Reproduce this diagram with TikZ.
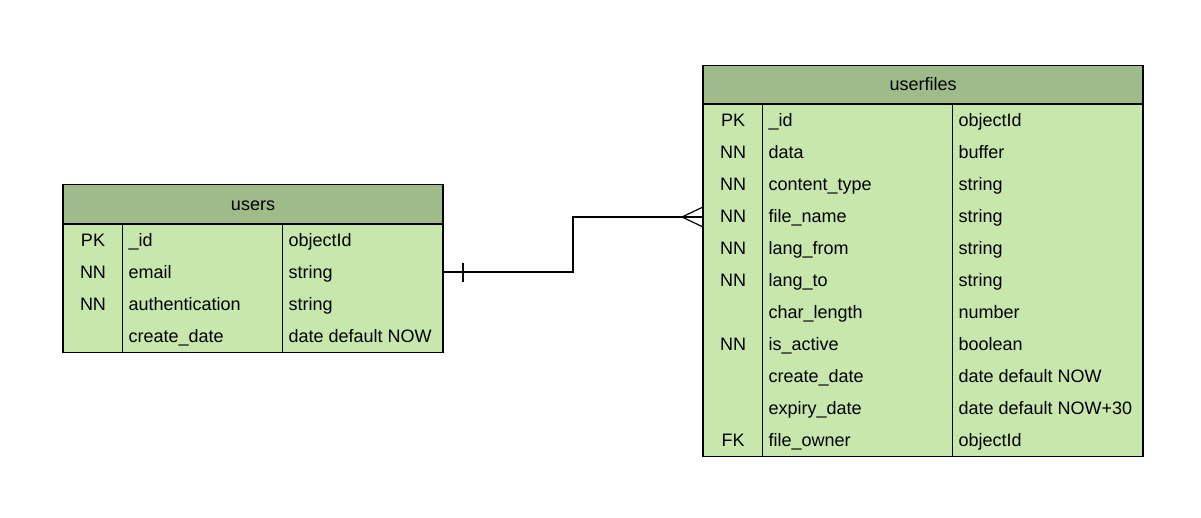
\documentclass[tikz,border=0pt]{standalone}
\usepackage{fontspec}
\setmainfont{Liberation Sans}

\definecolor{hdrgreen}{RGB}{159,187,138}
\definecolor{rowgreen}{RGB}{199,231,173}

\begin{document}
\begin{tikzpicture}[x=0.75pt, y=-0.75pt, line width=0.9pt,
    every node/.style={font=\fontsize{13.5}{16}\selectfont, text height=9.6pt, text depth=0pt}]
    \tikzset{hdr/.style={rectangle, draw, fill=hdrgreen, inner sep=0pt},
             tbl/.style={rectangle, draw, fill=rowgreen, inner sep=0pt, anchor=north},
             key/.style={inner sep=0pt},
             cell/.style={inner sep=0pt, anchor=west}}
    \useasboundingbox (0,0) rectangle (1201,517);
    % users
    \node[hdr, minimum width=285pt, minimum height=29.25pt] (users) at (253,204) {users};
    \node[tbl, minimum width=285pt, minimum height=96pt] (users-b) at (253,224) {};
    \draw (users-b.north west) ++(60,0) -- ++(0,128) ++(160,0) -- ++(0,-128);
    \foreach \ky/\nm/\ty [count=\i] in {PK/\_id/objectId, NN/email/string,
        NN/authentication/string, /create\_date/date default NOW} {
        \node[key] (u-k\i) at (93,208+32*\i) {\ky};
        \node[cell] (u-n\i) at (128,208+32*\i) {\nm};
        \node[cell] (u-t\i) at (288,208+32*\i) {\ty};
        \coordinate (u-r\i) at (443,208+32*\i);
    }
    % userfiles
    \node[hdr, minimum width=330pt, minimum height=28.5pt] (userfiles) at (923,84.5) {userfiles};
    \node[tbl, minimum width=330pt, minimum height=264pt] (userfiles-b) at (923,104) {};
    \draw (userfiles-b.north west) ++(60,0) -- ++(0,352) ++(190,0) -- ++(0,-352);
    \foreach \ky/\nm/\ty [count=\i] in {PK/\_id/objectId, NN/data/buffer,
        NN/content\_type/string, NN/file\_name/string, NN/lang\_from/string,
        NN/lang\_to/string, /char\_length/number, NN/is\_active/boolean,
        /create\_date/date default NOW, /expiry\_date/date default NOW+30,
        FK/file\_owner/objectId} {
        \node[key] (f-k\i) at (733,88+32*\i) {\ky};
        \node[cell] (f-n\i) at (768,88+32*\i) {\nm};
        \node[cell] (f-t\i) at (958,88+32*\i) {\ty};
        \coordinate (f-l\i) at (703,89+32*\i);
    }
    % relation: one user, many files
    \draw (u-r2) -- ++(130,0) |- (f-l4);
    \draw (u-r2) ++(20,-9.5) -- ++(0,19);
    \draw (f-l4) ++(-21,0) -- ++(21,-10) (f-l4) ++(-21,0) -- ++(21,10);
\end{tikzpicture}
\end{document}
